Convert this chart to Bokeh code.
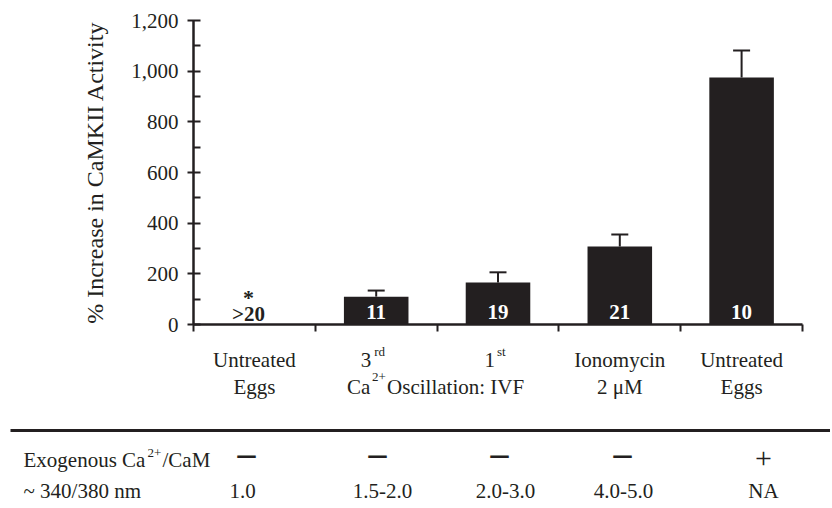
import numpy as np
from bokeh.plotting import figure
from bokeh.models import (LinearAxis, FixedTicker, Whisker, TeeHead, ColumnDataSource,
                          Range1d, NumeralTickFormatter)
from bokeh.core.properties import value
from bokeh.embed import file_html
from bokeh.resources import INLINE

# ---------------- data ----------------
categories = ["Untreated Eggs", "3rd Ca2+ Oscillation: IVF", "1st Ca2+ Oscillation: IVF",
              "Ionomycin 2 μM", "Untreated Eggs + Ca2+/CaM"]
increase = [0, 110, 166, 308, 975]          # % increase in CaMKII activity
sem = [0, 24, 40, 47, 107]                  # upper error bar
n_eggs = [">20", "11", "19", "21", "10"]
label_line1 = ["Untreated", "3", "1", "Ionomycin", "Untreated"]
label_sup1 = ["", "rd", "st", "", ""]
label_line2 = ["Eggs", "", "", "2 μM", "Eggs"]
shared_label = ["Ca", "2+", " Oscillation: IVF"]
exo_cam = ["–", "–", "–", "–", "+"]
ratio_340_380 = ["1.0", "1.5-2.0", "2.0-3.0", "4.0-5.0", "NA"]
y_ticks = [0, 200, 400, 600, 800, 1000, 1200]
y_minor = [100, 300, 500, 700, 900, 1100]

# ---------------- layout helpers ----------------
W, H = 830, 504
OX, OY = 0, 0          # page position of the canvas
X0_PAGE = 193.0
Y0_PAGE = 324.0
CAT_PX = 121.8
PX_PER_UNIT = 304.0 / 1200
TXT_DY = 7             # correction for where text glyph baselines land

def xd(page_x):
    return (page_x - X0_PAGE) / CAT_PX

def yd(page_y):
    return (Y0_PAGE - page_y) / PX_PER_UNIT

def yt(page_y):
    return yd(page_y - TXT_DY)

INK = "#231f20"
FONT = value("Liberation Serif")

p = figure(width=W, height=H, output_backend="svg", toolbar_location=None,
           x_axis_type=None, y_axis_type=None,
           x_range=Range1d(xd(OX), xd(OX + W)), y_range=Range1d(yd(OY + H), yd(OY)),
           min_border=0, outline_line_color=None, background_fill_color="white",
           border_fill_color="white")
p.xgrid.visible = False
p.ygrid.visible = False

centers = [i + 0.5 for i in range(len(categories))]

# ---------------- axes ----------------
yax = LinearAxis(fixed_location=0, bounds=(0, 1200),
                 ticker=FixedTicker(ticks=y_ticks, minor_ticks=y_minor),
                 formatter=NumeralTickFormatter(format="0,0"),
                 axis_label="% Increase in CaMKII Activity")
yax.axis_line_width = 2.5
yax.axis_line_color = INK
yax.major_tick_line_width = 2
yax.major_tick_line_color = INK
yax.minor_tick_line_width = 2
yax.minor_tick_line_color = INK
yax.major_tick_in = 7
yax.major_tick_out = 6
yax.minor_tick_in = 7
yax.minor_tick_out = 0
yax.major_label_standoff = 9
yax.major_label_text_font = "Liberation Serif"
yax.major_label_text_font_size = "21px"
yax.major_label_text_color = INK
yax.axis_label_text_font = "Liberation Serif"
yax.axis_label_text_font_size = "24px"
yax.axis_label_text_font_style = "normal"
yax.axis_label_text_color = INK
yax.axis_label_standoff = 20
p.add_layout(yax, "left")

xax = LinearAxis(fixed_location=0, bounds=(0, len(categories)),
                 ticker=FixedTicker(ticks=list(range(len(categories) + 1)), minor_ticks=[]),
                 major_label_overrides={i: "" for i in range(len(categories) + 1)})
xax.axis_line_width = 2.5
xax.axis_line_color = INK
xax.major_tick_line_width = 2
xax.major_tick_line_color = INK
xax.major_tick_in = 0
xax.major_tick_out = 7
xax.minor_tick_line_color = None
xax.major_label_text_font_size = "1px"
p.add_layout(xax, "below")

# ---------------- bars + error bars ----------------
p.vbar(x=centers, top=increase, width=0.53, fill_color=INK, line_color=None)

err_idx = [i for i in range(len(categories)) if sem[i] > 0]
err_src = ColumnDataSource(dict(
    x=[centers[i] for i in err_idx],
    lower=[increase[i] for i in err_idx],
    upper=[increase[i] + sem[i] for i in err_idx]))
wh = Whisker(base="x", lower="lower", upper="upper", source=err_src,
             line_color=INK, line_width=2,
             upper_head=TeeHead(size=17, line_width=2, line_color=INK), lower_head=None)
p.add_layout(wh)

# ---------------- n labels ----------------
p.text(x=centers[1:], y=yt(318), text=n_eggs[1:], text_color="white",
       text_font=FONT, text_font_size="21px", text_font_style="bold",
       text_align="center", text_baseline="alphabetic")
p.text(x=[centers[0]], y=yt(320), text=[n_eggs[0]], x_offset=-6, text_color=INK,
       text_font=FONT, text_font_size="21px", text_font_style="bold",
       text_align="center", text_baseline="alphabetic")
p.text(x=[centers[0]], y=yt(304), text=["*"], x_offset=-6, text_color=INK,
       text_font=FONT, text_font_size="22px", text_font_style="bold",
       text_align="center", text_baseline="alphabetic")

# ---------------- category labels ----------------
txt = dict(text_color=INK, text_font=FONT, text_baseline="alphabetic")
plain = [i for i in range(len(categories)) if not label_sup1[i]]
p.text(x=[centers[i] for i in plain], y=yt(366), text=[label_line1[i] for i in plain],
       text_font_size="21px", text_align="center", **txt)
row2 = [i for i in range(len(categories)) if label_line2[i]]
p.text(x=[centers[i] for i in row2], y=yt(393), text=[label_line2[i] for i in row2],
       text_font_size="21px", text_align="center", **txt)

sup_offsets = {1: (-5, -2), 2: (-3, -1)}
for i, (o_main, o_sup) in sup_offsets.items():
    p.text(x=[centers[i]], y=yt(366), text=[label_line1[i]], x_offset=o_main,
           text_font_size="21px", text_align="right", **txt)
    p.text(x=[centers[i]], y=yt(358), text=[label_sup1[i]], x_offset=o_sup,
           text_font_size="13px", text_align="left", **txt)

# "Ca2+ Oscillation: IVF" shared by categories 2 and 3
p.text(x=[2.0], y=yt(393), text=[shared_label[0]], x_offset=-90,
       text_font_size="21px", text_align="left", **txt)
p.text(x=[2.0], y=yt(383), text=[shared_label[1]], x_offset=-65,
       text_font_size="13px", text_align="left", **txt)
p.text(x=[2.0], y=yt(393), text=[shared_label[2]], x_offset=-50,
       text_font_size="21px", text_align="left", **txt)

# ---------------- table ----------------
p.segment(x0=[xd(10)], x1=[xd(832)], y0=[yd(430)], y1=[yd(430)],
          line_color=INK, line_width=3)

p.text(x=[xd(23)], y=yt(466), text=["Exogenous Ca"], text_font_size="21px",
       text_align="left", **txt)
p.text(x=[xd(147)], y=yt(459), text=["2+"], text_font_size="13px",
       text_align="left", **txt)
p.text(x=[xd(162)], y=yt(466), text=["/CaM"], text_font_size="21px",
       text_align="left", **txt)
p.text(x=[xd(23)], y=yt(497), text=["~ 340/380 nm"], text_font_size="21px",
       text_align="left", **txt)

col1 = [xd(v) for v in (246, 377, 499, 622)]
col1_plus = [xd(763)]
col2 = [xd(v) for v in (242, 382, 505, 623, 763)]
minus_idx = [i for i in range(5) if exo_cam[i] != "+"]
plus_idx = [i for i in range(5) if exo_cam[i] == "+"]
p.text(x=col1, y=yt(459), text=[exo_cam[i] for i in minus_idx], text_font_size="36px",
       text_font_style="bold", text_align="center", **txt)
p.text(x=col1_plus, y=yt(465), text=[exo_cam[i] for i in plus_idx], text_font_size="30px",
       text_align="center", **txt)
p.text(x=col2, y=yt(497), text=ratio_340_380, text_font_size="21px",
       text_align="center", **txt)

open("out.html", "w").write(file_html(p, INLINE))
